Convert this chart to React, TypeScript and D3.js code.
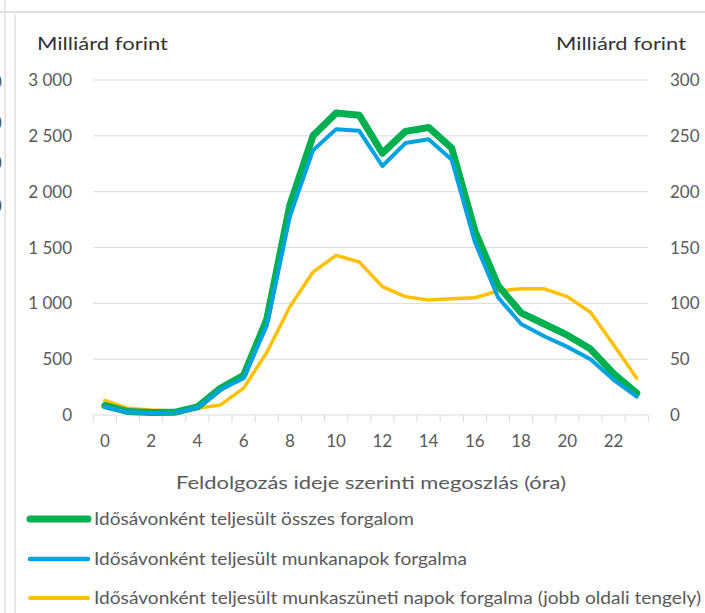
import React from 'react';
import * as d3 from 'd3';

// hours of the day (categories)
const hours: number[] = d3.range(0, 24);

// total turnover per hour slot (billion HUF, left axis)
const totalTurnover: number[] = [
  85, 31, 22, 24, 72, 240, 355, 855, 1880, 2500, 2705, 2685,
  2345, 2540, 2575, 2390, 1650, 1160, 915, 815, 715, 590, 370, 195,
];

// working days turnover (left axis)
const workdayTurnover: number[] = [
  70, 25, 18, 20, 65, 228, 330, 800, 1780, 2370, 2560, 2545,
  2230, 2435, 2470, 2285, 1550, 1055, 815, 705, 610, 500, 315, 165,
];

// holiday turnover (right axis)
const holidayTurnover: number[] = [
  13, 6, 4.5, 3.6, 6, 9, 24, 56, 97, 128, 143, 137,
  115, 106, 103, 104, 105, 111, 113, 113, 106, 92, 63, 33,
];

const leftTicks: number[] = [0, 500, 1000, 1500, 2000, 2500, 3000];
const rightTicks: number[] = [0, 50, 100, 150, 200, 250, 300];
const xTickLabels: number[] = [0, 2, 4, 6, 8, 10, 12, 14, 16, 18, 20, 22];

const legendItems = [
  { label: 'Idősávonként teljesült összes forgalom', color: '#00B050', width: 7, len: 320 },
  { label: 'Idősávonként teljesült munkanapok forgalma', color: '#00A2E2', width: 4.5, len: 373 },
  { label: 'Idősávonként teljesült munkaszüneti napok forgalma (jobb oldali tengely)', color: '#FFC000', width: 4, len: 607 },
];

const W = 705;
const H = 613;
const FONT = 'Lato, "Open Sans", sans-serif';

// hungarian style thousands separator (space)
const fmt = (v: number) => d3.format(',')(v).replace(/,/g, '\u00a0');

export default function App() {
  // band scale for categories, axis spans the plot area
  const x = d3.scaleBand<number>().domain(hours).range([93.3, 648.3]);
  const xc = (h: number) => (x(h) as number) + x.bandwidth() / 2;
  const yLeft = d3.scaleLinear().domain([0, 3000]).range([415, 80]);
  const yRight = d3.scaleLinear().domain([0, 300]).range([415, 80]);

  const lineLeft = d3
    .line<number>()
    .x((_, i) => xc(hours[i]))
    .y((d) => yLeft(d));
  const lineRight = d3
    .line<number>()
    .x((_, i) => xc(hours[i]))
    .y((d) => yRight(d));

  // tick marks between categories, Excel style
  const tickPositions = d3.range(0, 25).map((k) => 93.3 + k * x.step());

  return (
    <svg
      width={W}
      height={H}
      style={{ position: 'absolute', left: 0, top: 0, background: '#fff' }}
      fontFamily={FONT}
    >
      {/* frame bits of the surrounding sheet */}
      <line x1={0} x2={W} y1={12} y2={12} stroke="#e0e0e0" strokeWidth={2} />
      <line x1={5} x2={5} y1={0} y2={H} stroke="#e0e0e0" strokeWidth={1.5} />
      <line x1={15} x2={15} y1={14} y2={H} stroke="#e0e0e0" strokeWidth={1.5} />
      {[88, 129, 169, 212].map((yy) => (
        <text key={yy} x={-8} y={yy} fontSize={17} fill="#595959">0</text>
      ))}

      {/* gridlines */}
      {leftTicks.slice(1).map((t) => (
        <line key={t} x1={93.3} x2={648.3} y1={yLeft(t)} y2={yLeft(t)} stroke="#d9d9d9" strokeWidth={1} />
      ))}

      {/* x axis */}
      <line x1={93.3} x2={648.3} y1={415} y2={415} stroke="#d9d9d9" strokeWidth={1} />
      {tickPositions.map((p, i) => (
        <line key={i} x1={p} x2={p} y1={415} y2={422} stroke="#d9d9d9" strokeWidth={1} />
      ))}
      {xTickLabels.map((h) => (
        <text key={h} x={xc(h)} y={447} fontSize={17} fill="#595959" textAnchor="middle">
          {h}
        </text>
      ))}

      {/* left axis labels */}
      {leftTicks.map((t) => (
        <text key={t} x={72} y={yLeft(t) + 6} fontSize={17} fill="#595959" textAnchor="end">
          {fmt(t)}
        </text>
      ))}
      {/* right axis labels */}
      {rightTicks.map((t) => (
        <text key={t} x={670} y={yRight(t) + 6} fontSize={17} fill="#595959">
          {t}
        </text>
      ))}

      <text x={37} y={50} fontSize={18} fill="#333" textLength={131} lengthAdjust="spacingAndGlyphs">
        Milliárd forint
      </text>
      <text x={556} y={50} fontSize={18} fill="#333" textLength={130} lengthAdjust="spacingAndGlyphs">
        Milliárd forint
      </text>

      {/* series */}
      <path d={lineRight(holidayTurnover) || ''} fill="none" stroke="#FFC000" strokeWidth={3.5} strokeLinejoin="round" strokeLinecap="round" />
      <path d={lineLeft(totalTurnover) || ''} fill="none" stroke="#00B050" strokeWidth={7} strokeLinejoin="round" strokeLinecap="round" />
      <path d={lineLeft(workdayTurnover) || ''} fill="none" stroke="#00A2E2" strokeWidth={4} strokeLinejoin="round" strokeLinecap="round" />

      <text x={371} y={489} fontSize={18} fill="#595959" textAnchor="middle" textLength={390} lengthAdjust="spacingAndGlyphs">
        Feldolgozás ideje szerinti megoszlás (óra)
      </text>

      {/* legend */}
      {legendItems.map((item, i) => {
        const ly = [519, 559, 598][i];
        return (
          <g key={item.label}>
            <line x1={30} x2={88} y1={ly} y2={ly} stroke={item.color} strokeWidth={item.width} strokeLinecap="round" />
            <text x={94} y={ly + 6} fontSize={17} fill="#595959" textLength={item.len} lengthAdjust="spacingAndGlyphs">
              {item.label}
            </text>
          </g>
        );
      })}
    </svg>
  );
}
